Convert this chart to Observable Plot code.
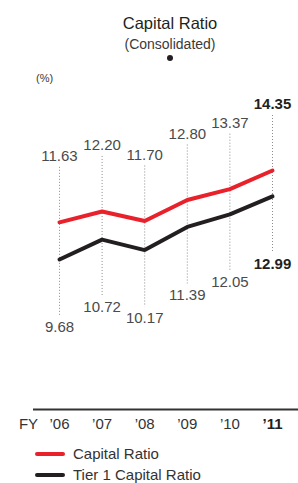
<!DOCTYPE html>
<html><head><meta charset="utf-8">
<script src="https://cdn.jsdelivr.net/npm/d3@7"></script>
<script src="https://cdn.jsdelivr.net/npm/@observablehq/plot@0.6"></script>
<style>
body{margin:0;background:#fff;font-family:"Liberation Sans",Arial,sans-serif;}
#wrap{position:relative;width:298px;height:483px;overflow:hidden;}
.abs{position:absolute;white-space:nowrap;}
#chart{position:absolute;left:0;top:90px;}
.sw{position:absolute;left:35px;width:30px;height:4px;border-radius:2px;}
</style></head><body>
<div id="wrap">
  <div class="abs" style="left:0;width:340px;text-align:center;top:13px;font-size:16.5px;line-height:20px;color:#231f20">Capital Ratio</div>
  <div class="abs" style="left:0;width:340px;text-align:center;top:35px;font-size:14px;line-height:18px;color:#3a3a3a">(Consolidated)</div>
  <div class="abs" style="left:167px;top:55px;width:6px;height:6px;border-radius:3px;background:#231f20"></div>
  <div class="abs" style="left:36px;top:71px;font-size:11px;line-height:14px;color:#3a3a3a">(%)</div>
  <div id="chart"></div>
  <div id="legend"></div>
</div>
<script>
const years = [2006, 2007, 2008, 2009, 2010, 2011];
const yearLabels = ["’06", "’07", "’08", "’09", "’10", "’11"];
const fyLabel = "FY";
const capitalRatio = [11.63, 12.20, 11.70, 12.80, 13.37, 14.35];
const tier1Ratio = [9.68, 10.72, 10.17, 11.39, 12.05, 12.99];
const seriesNames = ["Capital Ratio", "Tier 1 Capital Ratio"];
const seriesColors = ["#e8212b", "#231f20"];

const rows = years.map((yr, i) => ({
  yr, label: yearLabels[i], cap: capitalRatio[i], t1: tier1Ratio[i], last: i === years.length - 1
}));
const yMin = 1.8, yMax = 18.5;
const font = "'Liberation Sans', Arial, sans-serif";

const chart = Plot.plot({
  width: 298, height: 350,
  marginLeft: 59, marginRight: 26, marginTop: 1, marginBottom: 31,
  x: {type: "linear", domain: [years[0], years[years.length - 1]], axis: null},
  y: {domain: [yMin, yMax], axis: null},
  style: {fontFamily: font, background: "transparent", overflow: "visible"},
  marks: [
    Plot.ruleX(rows, {x: "yr", y1: "cap", y2: "t1", insetTop: -55, insetBottom: -57,
      stroke: "#8c8c8c", strokeWidth: 1, strokeDasharray: "1,2"}),
    Plot.ruleY([yMin], {stroke: "#333", strokeWidth: 2, insetLeft: -26, insetRight: -26}),
    Plot.line(rows, {x: "yr", y: "t1", stroke: seriesColors[1], strokeWidth: 4, strokeLinejoin: "miter"}),
    Plot.line(rows, {x: "yr", y: "cap", stroke: seriesColors[0], strokeWidth: 4, strokeLinejoin: "miter"}),
    Plot.text(rows.filter(d => !d.last), {x: "yr", y: "cap", text: d => d.cap.toFixed(2), dy: -66, fontSize: 15, fill: "#4a4a4a"}),
    Plot.text(rows.filter(d => d.last), {x: "yr", y: "cap", text: d => d.cap.toFixed(2), dy: -66, fontSize: 15, fontWeight: "bold", fill: "#231f20"}),
    Plot.text(rows.filter(d => !d.last), {x: "yr", y: "t1", text: d => d.t1.toFixed(2), dy: 68, fontSize: 15, fill: "#4a4a4a"}),
    Plot.text(rows.filter(d => d.last), {x: "yr", y: "t1", text: d => d.t1.toFixed(2), dy: 68, fontSize: 15, fontWeight: "bold", fill: "#231f20"}),
    Plot.text(rows.filter(d => !d.last), {x: "yr", frameAnchor: "bottom", dy: 19, text: "label", fontSize: 15, fill: "#333"}),
    Plot.text(rows.filter(d => d.last), {x: "yr", frameAnchor: "bottom", dy: 19, text: "label", fontSize: 15, fontWeight: "bold", fill: "#231f20"}),
    Plot.text([fyLabel], {x: years[0], frameAnchor: "bottom", dy: 19, dx: -31, text: d => d, fontSize: 15, fill: "#333"})
  ]
});
document.getElementById("chart").appendChild(chart);

const legend = document.getElementById("legend");
seriesNames.forEach((name, i) => {
  const top = 445 + i * 21;
  const sw = document.createElement("div");
  sw.className = "sw";
  sw.style.top = (top + 7) + "px";
  sw.style.background = seriesColors[i];
  legend.appendChild(sw);
  const t = document.createElement("div");
  t.className = "abs";
  t.style.cssText = `left:73px;top:${top}px;font-size:15px;line-height:17px;color:#333`;
  t.textContent = name;
  legend.appendChild(t);
});
</script>
</body></html>
